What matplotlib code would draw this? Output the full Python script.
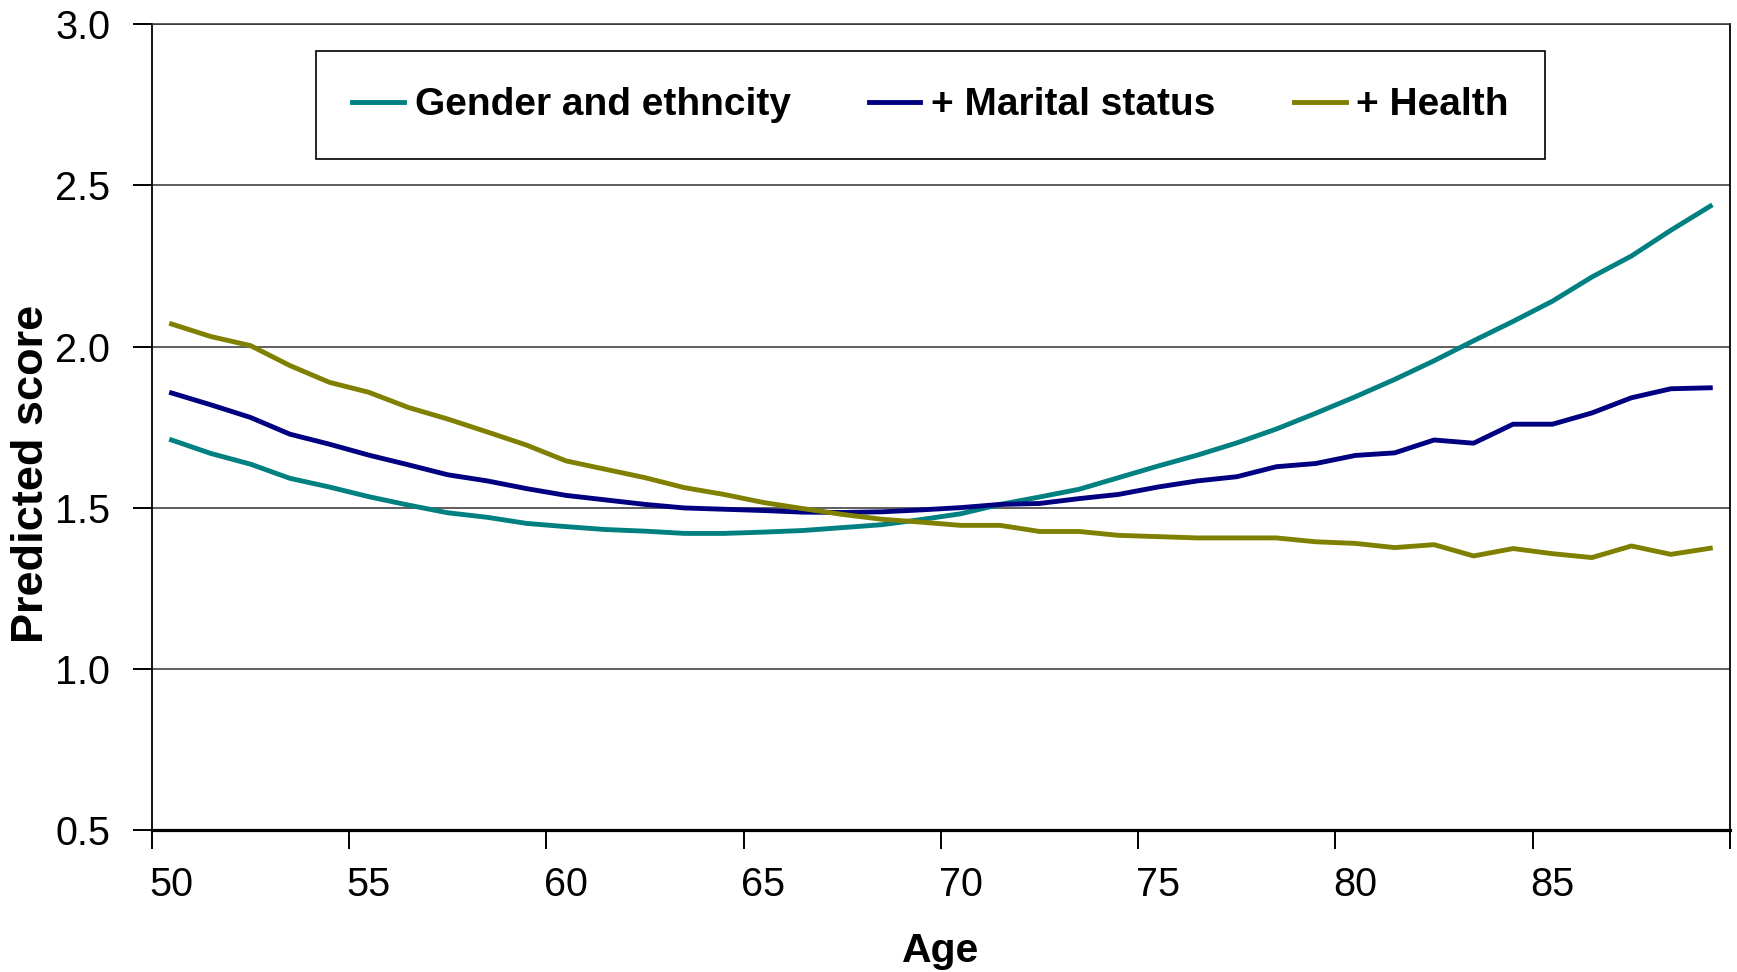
import matplotlib
matplotlib.use("Agg")
import matplotlib.pyplot as plt
import numpy as np

plt.rcParams['font.family'] = ['Liberation Sans', 'DejaVu Sans']

#%% data
ages = list(range(50, 90))

gender_ethnicity = [1.710, 1.668, 1.635, 1.591, 1.564, 1.534, 1.508, 1.484, 1.470, 1.451,
                    1.441, 1.432, 1.427, 1.420, 1.420, 1.424, 1.429, 1.438, 1.447, 1.463,
                    1.481, 1.510, 1.533, 1.557, 1.593, 1.629, 1.663, 1.701, 1.744, 1.793,
                    1.844, 1.898, 1.956, 2.018, 2.078, 2.141, 2.216, 2.281, 2.361, 2.436]

marital_status = [1.856, 1.819, 1.780, 1.728, 1.697, 1.663, 1.633, 1.602, 1.583, 1.559,
                  1.538, 1.524, 1.510, 1.499, 1.495, 1.491, 1.486, 1.485, 1.487, 1.493,
                  1.500, 1.510, 1.513, 1.528, 1.541, 1.564, 1.583, 1.596, 1.627, 1.637,
                  1.662, 1.670, 1.710, 1.700, 1.759, 1.759, 1.794, 1.841, 1.869, 1.872]

health = [2.070, 2.031, 2.003, 1.941, 1.889, 1.858, 1.811, 1.775, 1.735, 1.694,
          1.645, 1.619, 1.593, 1.562, 1.541, 1.516, 1.497, 1.479, 1.464, 1.455,
          1.445, 1.445, 1.426, 1.426, 1.414, 1.410, 1.406, 1.406, 1.406, 1.394,
          1.389, 1.376, 1.385, 1.350, 1.373, 1.357, 1.345, 1.381, 1.355, 1.374]

series_labels = ["Gender and ethncity", "+ Marital status", "+ Health"]
series_colors = ["#008080", "#000080", "#808000"]

y_ticks = [0.5, 1.0, 1.5, 2.0, 2.5, 3.0]

#%% figure
fig = plt.figure(figsize=(17.37, 9.72), dpi=100)
axs = fig.add_axes([0.0874, 0.1463, 0.9086, 0.8286])

x = np.arange(len(ages))
for vals, lab, col in zip([gender_ethnicity, marital_status, health], series_labels, series_colors):
    axs.plot(x, vals, color=col, lw=3.5, label=lab)

axs.set_xlim(-0.5, len(ages) - 0.5)
axs.set_ylim(0.5, 3.0)

# category axis: ticks between categories, labels on categories
axs.set_xticks(np.arange(-0.5, len(ages), 5))
axs.set_xticklabels([])
axs.set_xticks(x[::5], minor=True)
axs.set_xticklabels([str(a) for a in ages[::5]], minor=True)
axs.tick_params(axis='x', which='major', length=14, width=1.4, direction='out', color='black')
axs.tick_params(axis='x', which='minor', length=0, pad=26, labelsize=28.5)

axs.set_yticks(y_ticks)
axs.set_yticklabels(["%.1f" % v for v in y_ticks])
axs.tick_params(axis='y', length=14, width=1.4, direction='out', pad=16, labelsize=28.5)

axs.yaxis.grid(True, color='#333333', lw=1.1)
axs.set_axisbelow(True)

for s in ['left', 'right']:
    axs.spines[s].set_linewidth(1.3)
    axs.spines[s].set_color('black')
axs.spines['bottom'].set_linewidth(2.3)
axs.spines['top'].set_linewidth(1.1)
axs.spines['top'].set_color('#333333')

axs.set_xlabel('Age', fontsize=29.5, fontweight='bold', labelpad=20)
axs.set_ylabel('Predicted score', fontsize=32.5, fontweight='bold')
axs.yaxis.set_label_coords(-0.0635, 0.442)

leg = axs.legend(loc='center', bbox_to_anchor=(0.1039, 0.8336, 0.7789, 0.1321), mode='expand',
                 ncol=3, frameon=True, fancybox=False, framealpha=1, edgecolor='black',
                 borderpad=0.93, handlelength=1.33, handletextpad=0.28, borderaxespad=0,
                 prop={'weight': 'bold', 'size': 28})
leg.get_frame().set_linewidth(1.2)

fig.savefig("out.png", dpi=100)
